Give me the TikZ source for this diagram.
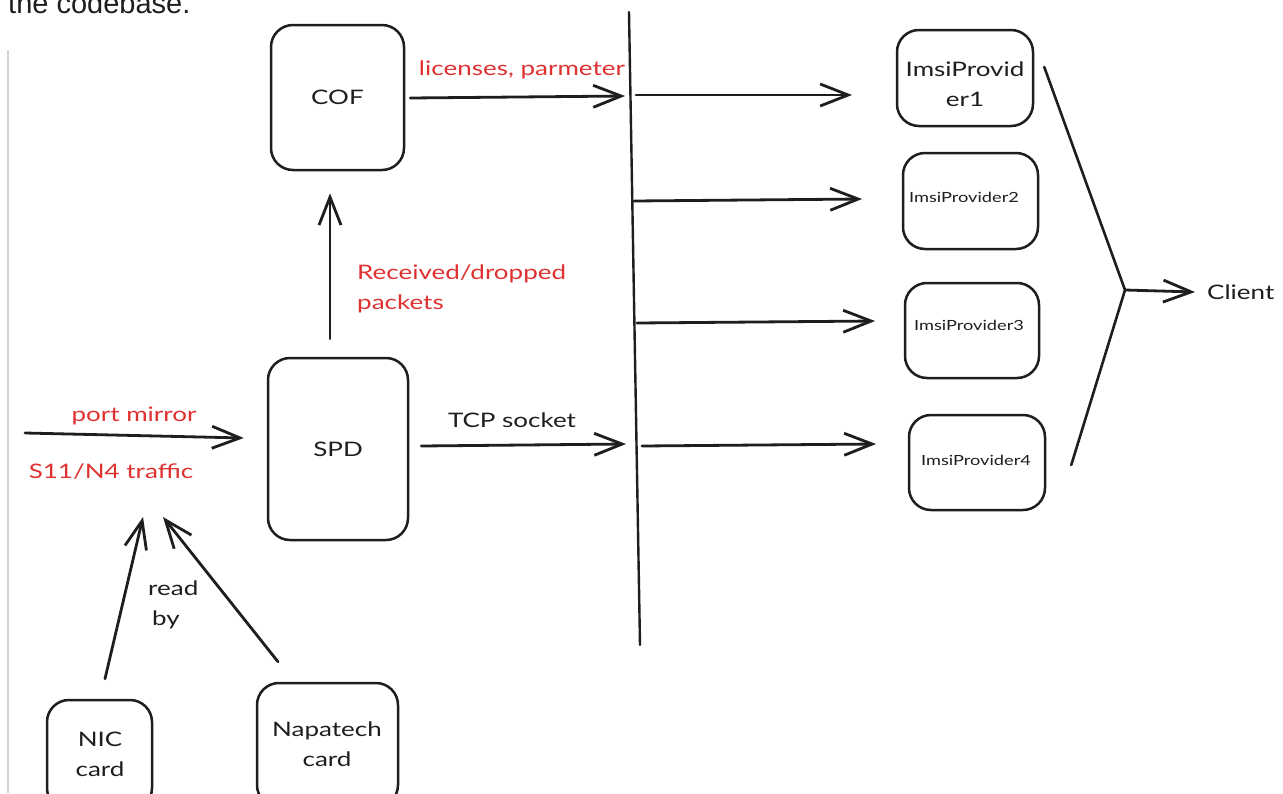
\documentclass[tikz,border=0pt]{standalone}
\usepackage{fontspec}
\setmainfont{Lato}[FakeStretch=1.3]
\newfontfamily\docfont{Liberation Sans}
\usetikzlibrary{arrows.meta,calc}
\definecolor{ink}{HTML}{1E1E1E}
\definecolor{exred}{HTML}{E03131}
\tikzset{
  sbox/.style={draw=ink, line width=2.5pt, rounded corners=22pt, inner sep=0pt,
    align=center, text=ink, font=\fontsize{20}{30}\selectfont},
  smalltxt/.style={font=\fontsize{14}{18}\selectfont},
  arr/.style={draw=ink, line width=2.8pt, line cap=round,
    -{Straight Barb[length=28pt,width=22pt]}},
  plainline/.style={draw=ink, line width=2.6pt, line cap=round, line join=round},
  redlab/.style={text=exred, inner sep=0pt, font=\fontsize{20}{30}\selectfont, align=left},
  blacklab/.style={text=ink, inner sep=0pt, font=\fontsize{20}{30}\selectfont, align=left}
}
\begin{document}
\begin{tikzpicture}[x=1pt,y=-1pt]
\useasboundingbox (0,0) rectangle (1283,793);
\clip (0,0) rectangle (1283,793);
\fill[white] (0,0) rectangle (1283,793);

% cropped heading text and faint page edge
\node[anchor=base west, inner sep=0pt, text=ink, font=\docfont\fontsize{29}{34}\selectfont] (head) at (8,13) {the codebase.};
\coordinate (edgeT) at (8,50);
\coordinate (edgeB) at (8,793);
\draw[gray!35, line width=1.5pt] (edgeT) -- (edgeB);

% boxes
\node[sbox, minimum width=133pt, minimum height=145pt] (cof) at (337.5,97.5) {COF};
\node[sbox, minimum width=140pt, minimum height=182pt] (spd) at (338,449) {SPD};
\node[sbox, minimum width=105pt, minimum height=110pt] (nic) at (99.5,755) {};
\node[blacklab, align=center] (nictxt) at (100,754) {NIC\\card};
\node[sbox, minimum width=141pt, minimum height=124pt] (napa) at (327.5,745) {};
\node[blacklab, align=center] (napatxt) at (327,744) {Napatech\\card};

\node[sbox, minimum width=136pt, minimum height=96pt] (ip1) at (965,78) {};
\node[blacklab, align=center] (ip1txt) at (965,84) {ImsiProvid\\er1};
\node[sbox, minimum width=135pt, minimum height=96pt] (ip2) at (970.5,201) {};
\node[blacklab, smalltxt] (ip2txt) at (964,197) {ImsiProvider2};
\node[sbox, minimum width=134pt, minimum height=95pt] (ip3) at (972,330.5) {};
\node[blacklab, smalltxt] (ip3txt) at (969,325) {ImsiProvider3};
\node[sbox, minimum width=136pt, minimum height=95pt] (ip4) at (977,462.5) {};
\node[blacklab, smalltxt] (ip4txt) at (976,460) {ImsiProvider4};

% bus line
\coordinate (busT) at (629,12);
\coordinate (busB) at (640,645);
\draw[plainline, line width=2.4pt] (busT) -- (busB);

% bus taps and their free ends
\coordinate (b1) at (636,95);   \coordinate (e1) at (852,95);
\coordinate (b2) at (634,201);  \coordinate (e2) at (862,199);
\coordinate (b3) at (637,323);  \coordinate (e3) at (875,321);
\coordinate (b4) at (642,446);  \coordinate (e4) at (876,444);
\draw[arr] (b1) -- (e1);
\draw[arr] (b2) -- (e2);
\draw[arr] (b3) -- (e3);
\draw[arr] (b4) -- (e4);

% into the bus
\coordinate (c1) at (625,96);
\coordinate (c2) at (626,444);
\draw[arr] ([xshift=5pt,yshift=-0.5pt]cof.east) -- (c1);
\draw[arr] ([xshift=12pt,yshift=3pt]spd.east) -- (c2);
\node[redlab] (lic) at (522,70) {licenses, parmeter};
\node[blacklab] (tcp) at (512,420) {TCP socket};

% SPD -> COF
\draw[arr] ([xshift=-8pt,yshift=18pt]spd.north) -- ([xshift=-7.5pt,yshift=-22pt]cof.south);
\node[redlab, anchor=west] (rec) at (357,289) {Received/dropped\\packets};

% port mirror
\coordinate (pm) at (25,433);
\draw[arr] (pm) -- ([xshift=-23pt,yshift=11pt]spd.west);
\node[redlab] (pmlab) at (134,416) {port mirror};
\node[redlab] (s11) at (111,472) {S11/N4 traffic};

% read by
\coordinate (t1) at (143,517);
\coordinate (t2) at (163,517);
\draw[arr] ([xshift=5.5pt,yshift=20pt]nic.north) -- (t1);
\draw[arr] ([xshift=-49.5pt,yshift=20pt]napa.north) -- (t2);
\node[blacklab, anchor=west] (readby) at (148,605) {read\\\hspace*{4pt}by};

% bracket to client
\coordinate (v) at (1125,290);
\draw[plainline] ([xshift=10pt,yshift=11pt]ip1.east) -- (v) -- ([xshift=25pt,yshift=-2.5pt]ip4.east);
\node[blacklab, anchor=west] (client) at (1207,292) {Client};
\draw[arr] (v) -- ([xshift=-12pt]client.west);
\end{tikzpicture}
\end{document}
